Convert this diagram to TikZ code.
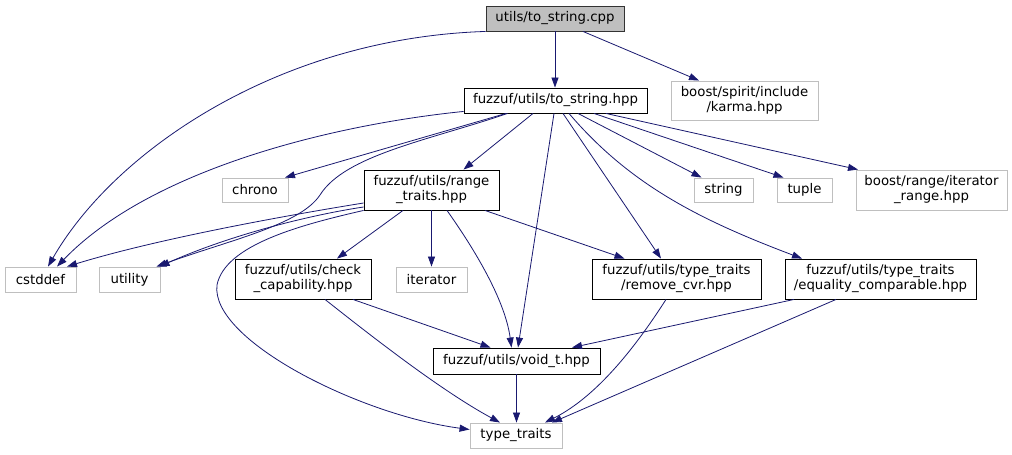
\documentclass[tikz,border=0pt]{standalone}
\usepackage{fontspec}
\setmainfont{DejaVu Sans}
\usetikzlibrary{arrows.meta}
\definecolor{edgeblue}{HTML}{191970}
\definecolor{lightborder}{HTML}{BFBFBF}
\definecolor{cppfill}{HTML}{BFBFBF}
\tikzset{
  every node/.style={font=\fontsize{13.3}{15}\selectfont, inner sep=0pt, align=center},
  mainbox/.style={draw=black, line width=0.9pt, fill=white},
  cppbox/.style={draw=black!80, line width=0.9pt, fill=cppfill},
  sysbox/.style={draw=lightborder, line width=0.9pt, fill=white},
  dep/.style={draw=edgeblue, line width=0.8pt, -{Triangle[length=10pt,width=7pt]}},
}
\begin{document}
\begin{tikzpicture}[x=1pt,y=-1pt]
\useasboundingbox[fill=white] (0,0) rectangle (1012,455);
% nodes
\node[cppbox, minimum width=138pt, minimum height=25pt] (cpp) at (555,18.5) {utils/to\_string.cpp};
\node[mainbox, minimum width=183pt, minimum height=25pt] (hpp) at (555.5,100.5) {fuzzuf/utils/to\_string.hpp};
\node[sysbox, minimum width=147pt, minimum height=39pt] (karma) at (744.5,100.5) {boost/spirit/include\\/karma.hpp};
\node[sysbox, minimum width=66pt, minimum height=24pt] (chrono) at (255,190) {chrono};
\node[mainbox, minimum width=135pt, minimum height=40pt] (range) at (431.5,190) {fuzzuf/utils/range\\\_traits.hpp};
\node[sysbox, minimum width=59pt, minimum height=24pt] (string) at (723.5,190) {string};
\node[sysbox, minimum width=55pt, minimum height=24pt] (tuple) at (804.5,190) {tuple};
\node[sysbox, minimum width=151pt, minimum height=40pt] (itrange) at (931.5,190) {boost/range/iterator\\\_range.hpp};
\node[sysbox, minimum width=71pt, minimum height=25pt] (cstddef) at (40.5,279.5) {cstddef};
\node[sysbox, minimum width=61pt, minimum height=25pt] (utility) at (129.5,279.5) {utility};
\node[mainbox, minimum width=136pt, minimum height=40pt] (check) at (303,279) {fuzzuf/utils/check\\\_capability.hpp};
\node[sysbox, minimum width=71pt, minimum height=25pt] (iterator) at (431.5,279.5) {iterator};
\node[mainbox, minimum width=169pt, minimum height=40pt] (remove) at (676.5,279) {fuzzuf/utils/type\_traits\\/remove\_cvr.hpp};
\node[mainbox, minimum width=191pt, minimum height=40pt] (equality) at (880.5,279) {fuzzuf/utils/type\_traits\\/equality\_comparable.hpp};
\node[mainbox, minimum width=167pt, minimum height=26pt] (void) at (516.5,361) {fuzzuf/utils/void\_t.hpp};
\node[sysbox, minimum width=92pt, minimum height=25pt] (types) at (516,435.5) {type\_traits};
% edges from cpp
\draw[dep] (cpp.south west) .. controls (280,38) and (115,150) .. ([xshift=7.5pt]cstddef.north);
\draw[dep] (cpp.south) -- (cpp.south |- hpp.north);
\draw[dep] ([xshift=28pt]cpp.south) -- ([xshift=-45.5pt]karma.north);
% edges from hpp
\draw[dep] ([yshift=2pt]hpp.south west) .. controls (330,125) and (150,170) .. ([xshift=16.5pt]cstddef.north);
\draw[dep] ([xshift=-49.5pt]hpp.south) -- ([xshift=30pt]chrono.north);
\draw[dep] ([xshift=-48pt]hpp.south) .. controls (430,140) and (345,155) .. (320,195) .. controls (300,225) and (230,240) .. ([xshift=27pt]utility.north);
\draw[dep] ([xshift=-22.5pt]hpp.south) -- ([xshift=32pt]range.north);
\draw[dep] ([xshift=-1.5pt]hpp.south) -- ([xshift=1.5pt]void.north);
\draw[dep] ([xshift=7.5pt]hpp.south) -- ([xshift=-15.5pt]remove.north);
\draw[dep] ([xshift=13.5pt]hpp.south) .. controls (630,185) and (700,220) .. ([xshift=-78.5pt]equality.north);
\draw[dep] ([xshift=22.5pt]hpp.south) -- ([xshift=-22pt]string.north);
\draw[dep] ([xshift=38.5pt]hpp.south) -- ([xshift=-21pt]tuple.north);
\draw[dep] ([xshift=50.5pt]hpp.south) -- ([xshift=-73.5pt]itrange.north);
% edges from range_traits
\draw[dep] ([yshift=-13pt]range.west) .. controls (320,210) and (170,235) .. ([xshift=26.5pt]cstddef.north);
\draw[dep] ([yshift=-17pt]range.west) .. controls (310,215) and (230,235) .. ([xshift=30pt]utility.north);
\draw[dep] (range.south west) .. controls (300,225) and (225,245) .. (217,285) .. controls (210,340) and (360,415) .. ([yshift=6pt]types.west);
\draw[dep] ([xshift=-28.5pt]range.south) -- ([xshift=34pt]check.north);
\draw[dep] (range.south) -- (iterator.north);
\draw[dep] ([xshift=15.5pt]range.south) .. controls (475,250) and (505,300) .. ([xshift=-5pt]void.north);
\draw[dep] ([xshift=53.5pt]range.south) -- ([xshift=-52pt]remove.north);
% lower edges
\draw[dep] ([xshift=50pt]check.south) -- ([xshift=-26pt]void.north);
\draw[dep] ([xshift=22pt]check.south) .. controls (370,335) and (440,390) .. ([xshift=-16pt]types.north);
\draw[dep] ([xshift=-10.5pt]remove.south) .. controls (640,340) and (600,395) .. ([xshift=29pt]types.north);
\draw[dep] ([xshift=-86.5pt]equality.south) -- ([xshift=55.5pt]void.north);
\draw[dep] ([xshift=-44.5pt]equality.south) -- ([xshift=36pt]types.north);
\draw[dep] (void.south) -- (void.south |- types.north);
\end{tikzpicture}
\end{document}
